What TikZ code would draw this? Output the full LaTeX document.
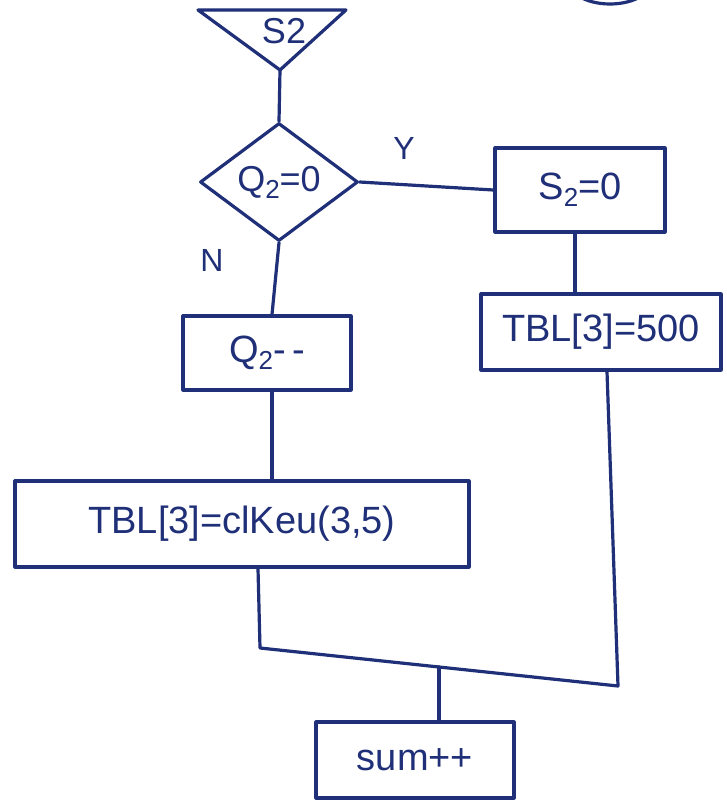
\documentclass[tikz,border=0pt]{standalone}
\usepackage{fontspec}
\setmainfont{Liberation Sans}
\usetikzlibrary{shapes.geometric,calc}
\definecolor{ink}{HTML}{1F2F78}
\newcommand{\lowsub}[1]{\raisebox{-7pt}{\fontsize{26}{30}\selectfont #1}}
\tikzset{
  x=1pt,y=-1pt,
  ink line/.style={draw=ink,line width=3.2pt,line join=round,line cap=round},
  boxnode/.style={ink line,rectangle,inner sep=0pt,text=ink,font=\fontsize{38}{44}\selectfont},
  decnode/.style={ink line,diamond,inner sep=0pt,text=ink,font=\fontsize{36}{42}\selectfont},
  lbl/.style={text=ink,font=\fontsize{32}{38}\selectfont}
}
\begin{document}
\begin{tikzpicture}
\useasboundingbox (0,0) rectangle (726,802);
\fill[white] (0,0) rectangle (726,802);
% partial ellipse at top right
\begin{scope}
\clip (0,0) rectangle (726,802);
\draw[ink line] (610,-22) ellipse [x radius=44, y radius=26];
\end{scope}
% extract triangle
\coordinate (tl) at (198,10);
\coordinate (tr) at (346,10);
\coordinate (ta) at (280,70);
\draw[ink line] (tl) -- (tr) -- (ta) -- cycle;
\node[lbl,font=\fontsize{36}{42}\selectfont] (s2t) at (284,31) {S2};
% decision
\node[decnode,minimum width=158pt,minimum height=118pt] (dec) at (279,182) {Q\lowsub{2}=0};
% process boxes
\node[boxnode,minimum width=170pt,minimum height=84pt] (s2z) at (580,190) {S\lowsub{2}=0};
\node[boxnode,minimum width=240pt,minimum height=76pt] (t500) at (601,332) {TBL[3]=500};
\node[boxnode,minimum width=168pt,minimum height=74pt] (q2m) at (267,353) {Q\lowsub{2}-\,-};
\node[boxnode,minimum width=454pt,minimum height=86pt] (tclk) at (242,524) {TBL[3]=clKeu(3,5)};
\node[boxnode,minimum width=198pt,minimum height=76pt] (sum) at (415,760) {sum++};
% labels
\node[lbl] (ylab) at (404,148) {Y};
\node[lbl] (nlab) at (212,260) {N};
% connectors
\coordinate (c1) at (260,648);
\coordinate (c2) at (618,686);
\coordinate (m) at ($(c1)!0.5!(c2)$);
\draw[ink line] (ta) -- (dec.north);
\draw[ink line] (dec.east) -- (s2z.west);
\draw[ink line] (dec.south) -- ([xshift=5pt]q2m.north);
\draw[ink line] ([xshift=-5pt]s2z.south) -- ([xshift=-5pt]t500.north -| s2z.south);
\draw[ink line] ([xshift=5pt]q2m.south) -- ([xshift=5pt]tclk.north -| q2m.south);
\draw[ink line] ([xshift=16pt]tclk.south) -- (c1) -- (c2) -- ([xshift=6pt]t500.south);
\draw[ink line] (m) -- (sum.north -| m);
\end{tikzpicture}
\end{document}
